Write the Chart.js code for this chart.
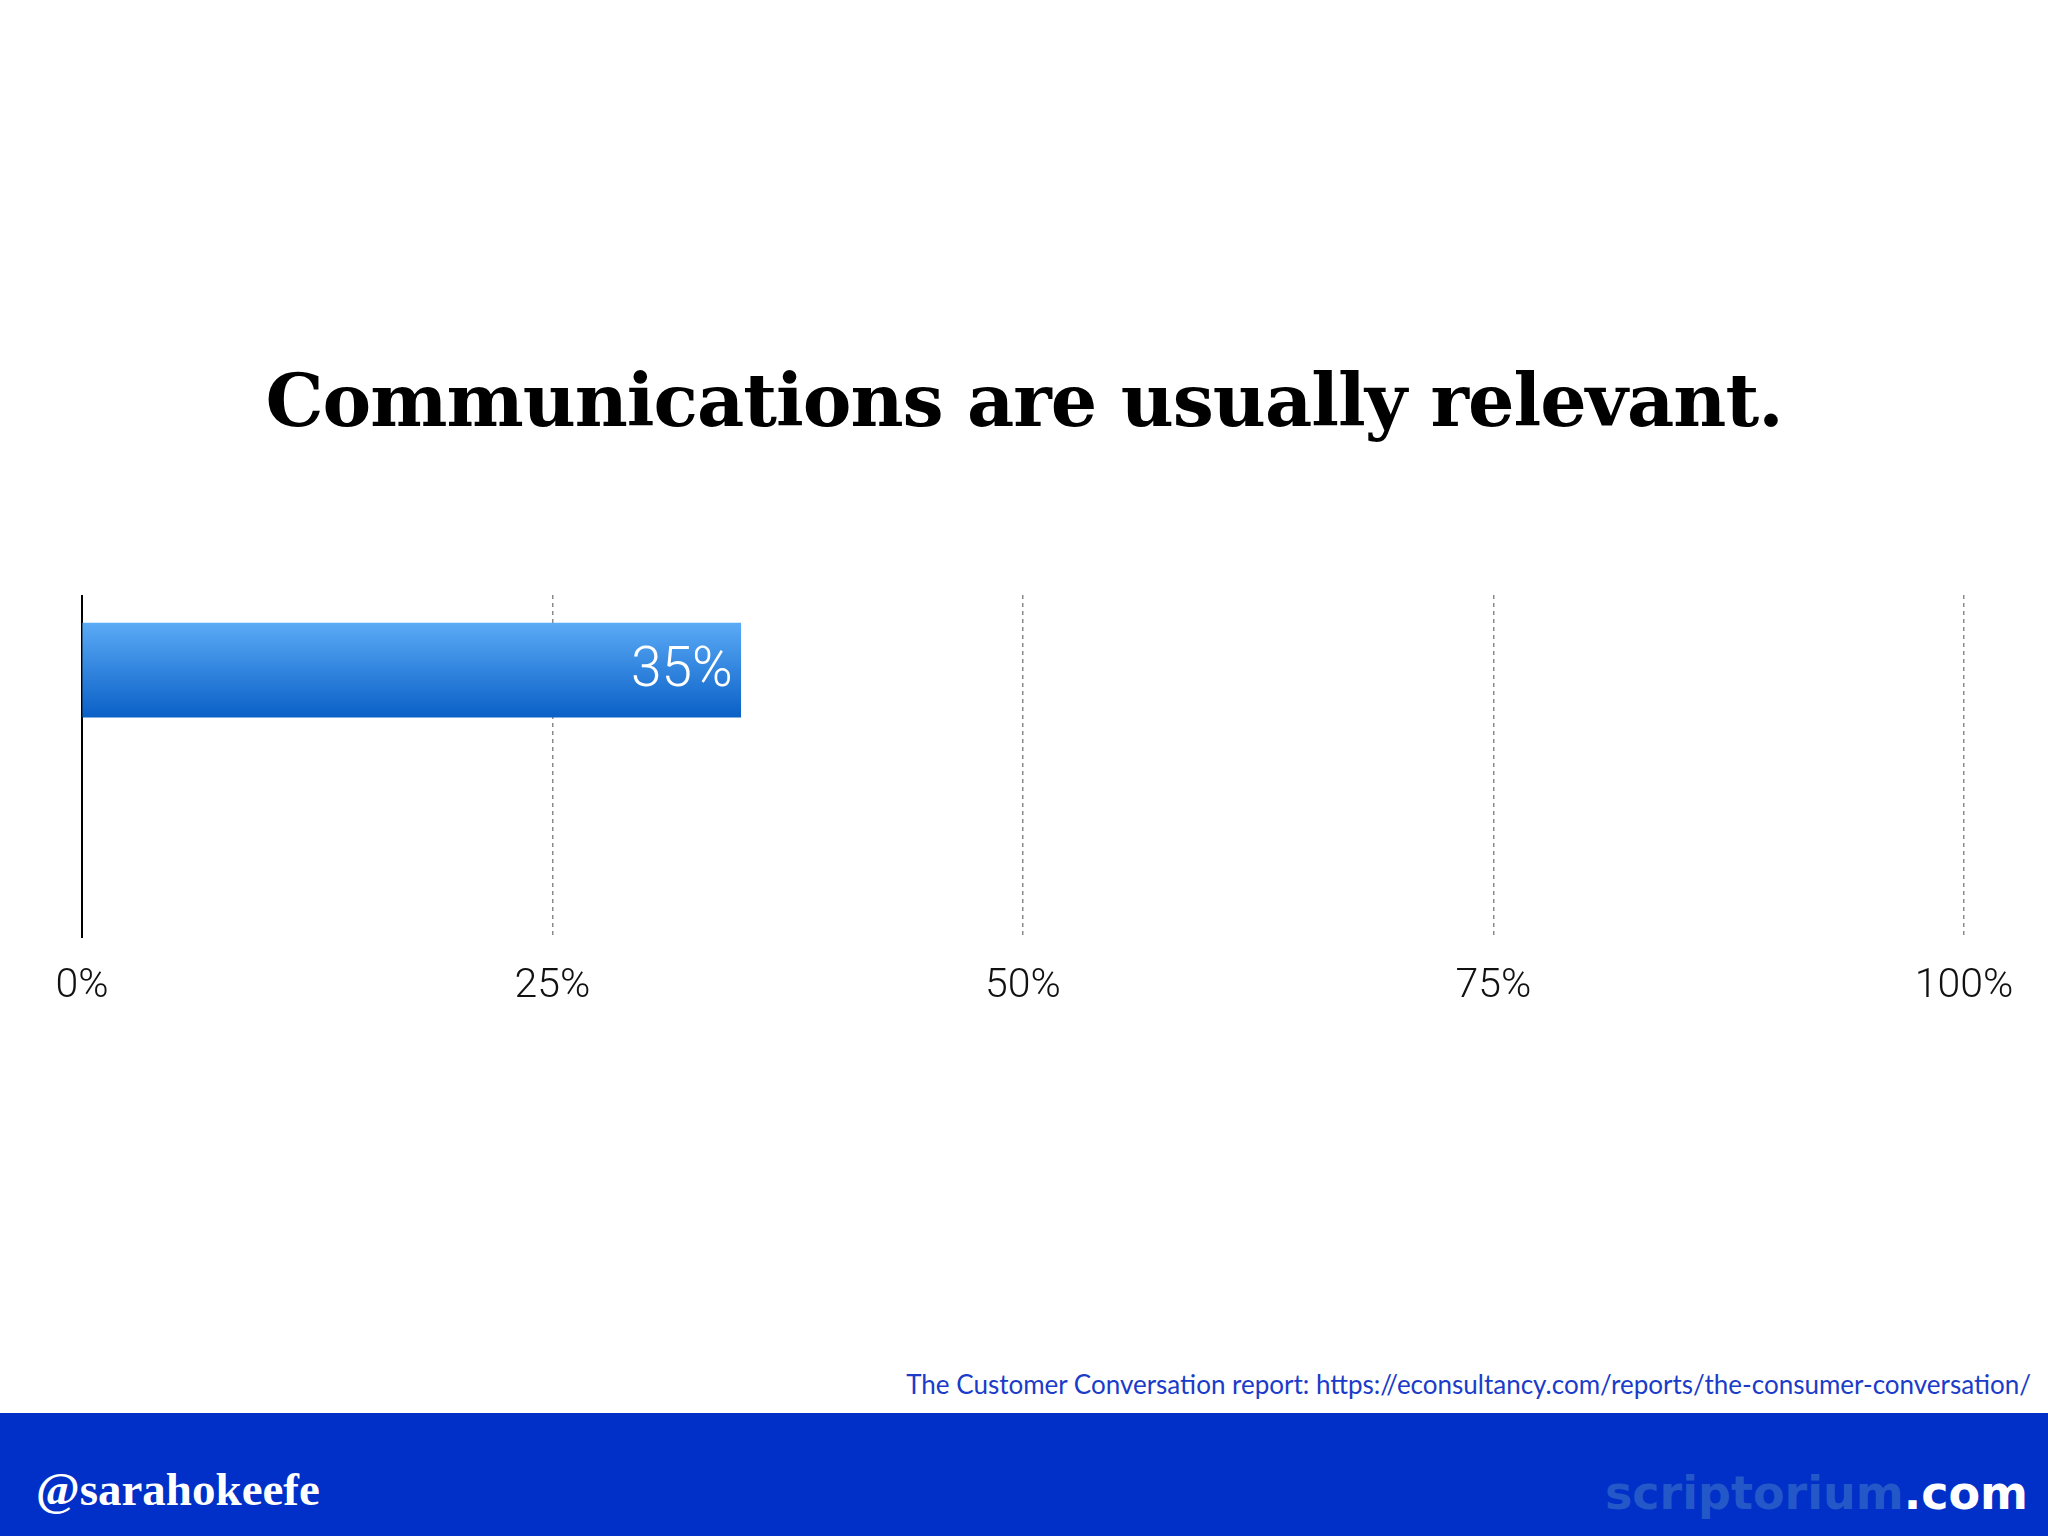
<!DOCTYPE html>
<html><head><meta charset="utf-8">
<script src="https://cdn.jsdelivr.net/npm/chart.js@4/dist/chart.umd.min.js"></script>
<style>
html,body{margin:0;padding:0;background:#fff;width:2048px;height:1536px;overflow:hidden;position:relative;font-family:"Liberation Sans",sans-serif}
#title{position:absolute;left:0;width:2048px;top:357px;text-align:center;font-family:"DejaVu Serif",serif;font-weight:900;font-size:73px;color:#000;letter-spacing:-1px}
#wrap{position:absolute;left:0;top:595px;width:2048px;height:440px}
#src{position:absolute;right:17px;top:1368px;font-family:Lato,sans-serif;font-size:26px;color:#1a3cc8}
#footer{position:absolute;left:0;top:1413px;width:2048px;height:123px;background:#0030c8}
#handle{position:absolute;left:36px;top:1462px;font-family:"Liberation Serif",serif;font-weight:bold;font-size:47px;color:#fff}
#brand{position:absolute;right:20px;top:1466px;font-family:"DejaVu Sans",sans-serif;font-weight:bold;font-size:46px;color:#2458c8}
#brand span{color:#fff}
</style></head><body>
<div id="title">Communications are usually relevant.</div>
<div id="wrap"><canvas id="c"></canvas></div>
<div id="src">The Customer Conversation report: https://econsultancy.com/reports/the-consumer-conversation/</div>
<div id="footer"></div>
<div id="handle">@sarahokeefe</div>
<div id="brand">scriptorium<span>.com</span></div>
<script>
const categories = ['Communications are usually relevant'];
const values = [35];
const tickValues = [0, 25, 50, 75, 100];

const labelPlugin = {
  id: 'lbl',
  afterDatasetsDraw(chart) {
    const ctx = chart.ctx;
    const meta = chart.getDatasetMeta(0);
    meta.data.forEach((el, i) => {
      ctx.save();
      ctx.fillStyle = '#fff';
      ctx.font = '300 55px Roboto, "Liberation Sans", sans-serif';
      ctx.textAlign = 'right';
      ctx.textBaseline = 'middle';
      ctx.fillText(values[i] + '%', el.x - 8, el.y + 2);
      ctx.restore();
    });
  }
};

function barGradient(c) {
  const chart = c.chart;
  const ys = chart.scales && chart.scales.y;
  if (!ys || !chart.chartArea) return '#2a7fde';
  const cy = ys.getPixelForValue(c.dataIndex);
  const g = chart.ctx.createLinearGradient(0, cy - 47, 0, cy + 47);
  g.addColorStop(0, '#5aaaf6');
  g.addColorStop(1, '#0a60c6');
  return g;
}

new Chart(document.getElementById('c'), {
  type: 'bar',
  data: { labels: categories, datasets: [{ data: values.map((v, i) => ({ x: v, y: i })), backgroundColor: barGradient, barThickness: 94, borderWidth: 0 }] },
  options: {
    indexAxis: 'y', responsive: true, maintainAspectRatio: false, animation: false,
    layout: { padding: { left: 82, right: 84, top: 0, bottom: 0 } },
    plugins: { legend: { display: false }, tooltip: { enabled: false } },
    scales: {
      x: {
        type: 'linear', min: 0, max: 100,
        afterBuildTicks: s => { s.ticks = tickValues.map(v => ({ value: v })); },
        ticks: { callback: v => v + '%', color: '#111', font: { family: 'Roboto, "Liberation Sans", sans-serif', size: 41, weight: 300 }, padding: 24 },
        grid: { color: c => c.tick && c.tick.value === 0 ? 'rgba(0,0,0,0)' : '#8a8a8a', lineWidth: 1.5, drawTicks: false },
        border: { display: false, dash: [4, 4] }
      },
      y: {
        type: 'linear', reverse: true, min: -1, max: 4.8,
        ticks: { display: false },
        grid: { display: false, drawTicks: false },
        border: { display: true, color: '#000', width: 2 }
      }
    }
  },
  plugins: [labelPlugin]
});
</script>
</body></html>
